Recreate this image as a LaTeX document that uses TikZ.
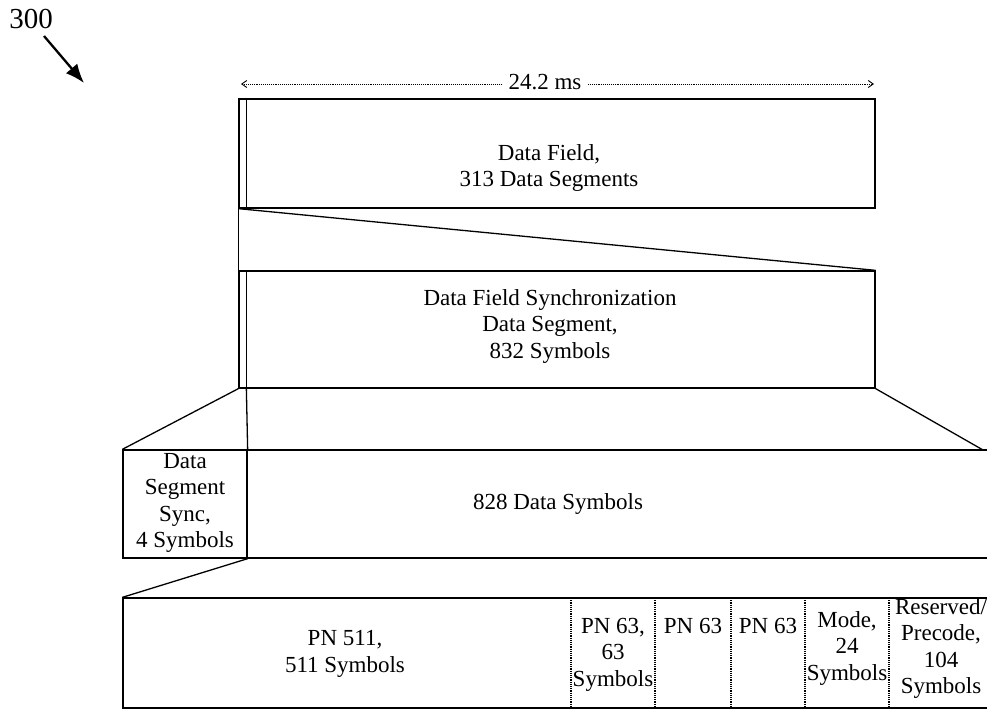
\documentclass[tikz,border=0pt]{standalone}
\usepackage{fontspec}
\setmainfont{Liberation Serif}
\usetikzlibrary{arrows.meta}
\begin{document}
\begin{tikzpicture}[x=1pt,y=-1pt,
  box/.style={draw, line width=1.3pt, rectangle, inner sep=0pt},
  txt/.style={inner sep=0pt, align=center, font=\fontsize{23}{26.5}\selectfont},
  link/.style={line width=1.3pt},
  divider/.style={line width=1.2pt, densely dotted},
  dimline/.style={line width=0.9pt, densely dotted, {Straight Barb[length=5pt,width=7pt]}-{Straight Barb[length=5pt,width=7pt]}},
]
\useasboundingbox (0,0) rectangle (987,709);
\clip (0,0) rectangle (987,709);

% figure label
\node[inner sep=0pt, font=\fontsize{29}{32}\selectfont] (lbl) at (31,19) {300};
\coordinate (lblstart) at (44,36);
\coordinate (lbltip) at (84,83);
\draw[line width=2.3pt, -{Latex[length=19pt,width=15pt]}] (lblstart) -- (lbltip);

% dimension line
\coordinate (dimL) at (241,84);
\coordinate (dimR) at (874,84);
\draw[dimline] (dimL) -- (dimR);
\node[txt, fill=white, inner xsep=6pt, inner ysep=2pt] (dimtxt) at (545,82) {24.2 ms};

% data field
\node[box, minimum width=636pt, minimum height=109pt] (field) at (557,153.5) {};
\draw[link] ([xshift=8pt]field.north west) -- ([xshift=8pt]field.south west);
\node[txt] (fieldtxt) at (549,168) {Data Field,\\313 Data Segments};

% data field sync segment
\node[box, minimum width=636pt, minimum height=117pt] (seg) at (557,329.5) {};
\draw[link] ([xshift=8pt]seg.north west) -- ([xshift=8pt]seg.south west);
\node[txt] (segtxt) at (550,326) {Data Field Synchronization\\Data Segment,\\832 Symbols};

\draw[link] (field.south west) -- (seg.north west);
\draw[link] (field.south west) -- (seg.north east);

% row 3
\node[box, minimum width=124pt, minimum height=108pt] (sync) at (185,504) {};
\node[txt] (synctxt) at (185,503) {Data\\Segment\\Sync,\\4 Symbols};
\node[box, minimum width=760pt, minimum height=108pt] (data) at (627,504) {};
\node[txt] (datatxt) at (558,504) {828 Data Symbols};

\draw[link] (seg.south west) -- (sync.north west);
\draw[link] ([xshift=8pt]seg.south west) -- (sync.north east);
\coordinate (rowthreeR) at (983,450);
\draw[link] (seg.south east) -- (rowthreeR);

% row 4
\node[box, minimum width=880pt, minimum height=110pt] (pn) at (563,653) {};
\draw[link] (sync.south east) -- (pn.north west);

\foreach \x/\n in {571/da,655/db,731/dc,805/dd,889/de}{
  \coordinate (\n t) at (\x,598);
  \coordinate (\n b) at (\x,708);
  \draw[divider] (\n t) -- (\n b);
}

\node[txt] (pnbig) at (345,654) {PN 511,\\511 Symbols};
\node[txt, anchor=north] (pna) at (613,618) {PN 63,\\63\\Symbols};
\node[txt, anchor=north] (pnb) at (693,618) {PN 63};
\node[txt, anchor=north] (pnc) at (768,618) {PN 63};
\node[txt, anchor=north] (mode) at (847,611) {Mode,\\24\\Symbols};
\node[txt, anchor=north] (resv) at (941,598) {Reserved/\\Precode,\\104\\Symbols};
\end{tikzpicture}
\end{document}
